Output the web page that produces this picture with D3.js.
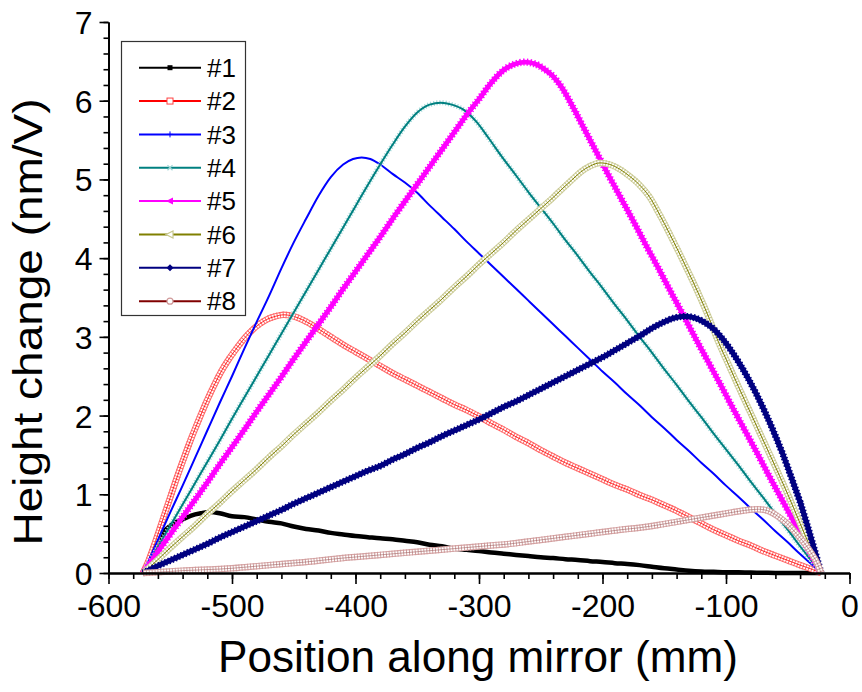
<!DOCTYPE html>
<html>
<head>
<meta charset="utf-8">
<script src="https://cdn.jsdelivr.net/npm/d3@7"></script>
<style>
  html, body { margin: 0; padding: 0; background: #fff; }
  svg { display: block; }
  text { font-family: "Liberation Sans", Arial, sans-serif; fill: #000; }
</style>
</head>
<body>
<svg id="chart" width="862" height="692"></svg>
<script>
// ---------------- DATA ----------------
const seriesNames = ["#1", "#2", "#3", "#4", "#5", "#6", "#7", "#8"];
const seriesColors = ["#000000", "#ff0000", "#0000ff", "#008080", "#ff00ff", "#808000", "#000080", "#800000"];
const xTickValues = [-600, -500, -400, -300, -200, -100, 0];
const yTickValues = [0, 1, 2, 3, 4, 5, 6, 7];

const series1 = [[-572,0],[-568,0.12],[-564,0.27],[-560,0.42],[-555,0.53],[-550,0.60],[-545,0.65],[-540,0.68],[-533,0.73],[-525,0.76],[-518,0.775],[-510,0.76],[-500,0.72],[-490,0.71],[-480,0.68],[-470,0.65],[-460,0.63],[-450,0.59],[-440,0.56],[-430,0.54],[-420,0.51],[-410,0.49],[-400,0.47],[-390,0.455],[-380,0.44],[-370,0.43],[-360,0.41],[-350,0.39],[-340,0.36],[-330,0.34],[-320,0.31],[-310,0.295],[-300,0.28],[-290,0.26],[-280,0.245],[-270,0.23],[-260,0.215],[-250,0.20],[-240,0.19],[-230,0.175],[-220,0.165],[-210,0.15],[-200,0.14],[-190,0.125],[-180,0.115],[-170,0.10],[-160,0.08],[-150,0.06],[-140,0.045],[-130,0.03],[-120,0.02],[-110,0.015],[-100,0.01],[-90,0.008],[-80,0.005],[-70,0.003],[-60,0],[-23,0]];

const series2 = [[-572,0],[-567,0.18],[-562,0.40],[-556,0.68],[-550,0.96],[-544,1.24],[-538,1.50],[-532,1.75],[-526,1.98],[-520,2.20],[-514,2.40],[-508,2.58],[-502,2.73],[-496,2.86],[-490,2.98],[-484,3.08],[-478,3.16],[-472,3.22],[-465,3.26],[-458,3.28],[-450,3.26],[-442,3.21],[-434,3.14],[-426,3.06],[-418,2.98],[-410,2.90],[-400,2.81],[-390,2.72],[-380,2.63],[-370,2.54],[-360,2.46],[-350,2.38],[-340,2.30],[-330,2.22],[-320,2.14],[-310,2.07],[-300,1.99],[-290,1.90],[-280,1.82],[-270,1.73],[-260,1.65],[-250,1.56],[-240,1.48],[-230,1.40],[-220,1.33],[-210,1.26],[-200,1.19],[-190,1.12],[-180,1.06],[-170,0.99],[-160,0.93],[-150,0.86],[-140,0.79],[-130,0.71],[-120,0.63],[-110,0.55],[-100,0.48],[-90,0.41],[-80,0.35],[-70,0.28],[-60,0.22],[-50,0.16],[-40,0.10],[-30,0.045],[-23,0]];

const series3 = [[-572,0],[-560,0.42],[-550,0.77],[-540,1.11],[-530,1.46],[-520,1.81],[-510,2.16],[-500,2.50],[-490,2.85],[-480,3.19],[-470,3.52],[-460,3.87],[-450,4.20],[-440,4.50],[-430,4.79],[-420,5.03],[-410,5.19],[-402,5.26],[-395,5.28],[-388,5.26],[-380,5.19],[-370,5.07],[-360,4.96],[-350,4.83],[-340,4.67],[-330,4.52],[-320,4.37],[-310,4.21],[-300,4.06],[-290,3.91],[-280,3.76],[-270,3.61],[-260,3.46],[-250,3.31],[-240,3.16],[-230,3.01],[-220,2.86],[-210,2.71],[-200,2.56],[-190,2.42],[-180,2.27],[-170,2.13],[-160,1.98],[-150,1.84],[-140,1.69],[-130,1.55],[-120,1.40],[-110,1.26],[-100,1.11],[-90,0.97],[-80,0.82],[-70,0.68],[-60,0.53],[-50,0.39],[-40,0.24],[-30,0.10],[-23,0]];

const series4 = [[-572,0],[-560,0.33],[-550,0.60],[-540,0.87],[-530,1.14],[-520,1.41],[-510,1.68],[-500,1.96],[-490,2.23],[-480,2.50],[-470,2.77],[-460,3.04],[-450,3.31],[-440,3.58],[-430,3.85],[-420,4.12],[-410,4.39],[-400,4.66],[-390,4.93],[-380,5.19],[-370,5.44],[-360,5.67],[-350,5.85],[-340,5.95],[-331,5.975],[-322,5.95],[-312,5.88],[-302,5.73],[-292,5.52],[-282,5.30],[-270,5.05],[-260,4.84],[-250,4.64],[-240,4.44],[-230,4.23],[-220,4.03],[-210,3.82],[-200,3.62],[-190,3.41],[-180,3.21],[-170,3.00],[-160,2.80],[-150,2.59],[-140,2.39],[-130,2.18],[-120,1.98],[-110,1.77],[-100,1.57],[-90,1.37],[-80,1.16],[-70,0.96],[-60,0.75],[-50,0.55],[-40,0.34],[-30,0.14],[-23,0]];

const series5 = [[-572,0],[-560,0.27],[-550,0.49],[-540,0.71],[-530,0.93],[-520,1.15],[-510,1.38],[-500,1.60],[-490,1.82],[-480,2.05],[-470,2.27],[-460,2.49],[-450,2.72],[-440,2.94],[-430,3.16],[-420,3.38],[-410,3.61],[-400,3.83],[-390,4.05],[-380,4.27],[-370,4.50],[-360,4.72],[-350,4.94],[-340,5.16],[-330,5.38],[-320,5.60],[-310,5.82],[-300,6.02],[-290,6.23],[-280,6.39],[-272,6.46],[-263,6.49],[-255,6.47],[-247,6.40],[-240,6.31],[-233,6.17],[-225,5.95],[-215,5.65],[-205,5.35],[-195,5.05],[-185,4.76],[-175,4.47],[-165,4.17],[-155,3.88],[-145,3.58],[-135,3.29],[-125,2.99],[-115,2.70],[-105,2.41],[-95,2.11],[-85,1.82],[-75,1.53],[-65,1.23],[-55,0.94],[-45,0.65],[-35,0.35],[-23,0]];

const series6 = [[-572,0],[-560,0.17],[-550,0.32],[-540,0.46],[-530,0.60],[-520,0.75],[-510,0.89],[-500,1.04],[-490,1.18],[-480,1.32],[-470,1.47],[-460,1.61],[-450,1.76],[-440,1.90],[-430,2.04],[-420,2.19],[-410,2.33],[-400,2.48],[-390,2.62],[-380,2.76],[-370,2.91],[-360,3.05],[-350,3.20],[-340,3.34],[-330,3.48],[-320,3.63],[-310,3.77],[-300,3.92],[-290,4.06],[-280,4.20],[-270,4.35],[-260,4.49],[-250,4.63],[-240,4.77],[-232,4.89],[-225,4.99],[-218,5.09],[-210,5.17],[-202,5.21],[-194,5.19],[-186,5.13],[-178,5.04],[-170,4.93],[-162,4.78],[-154,4.56],[-146,4.32],[-138,4.07],[-130,3.81],[-122,3.54],[-114,3.25],[-106,2.93],[-98,2.65],[-90,2.37],[-80,2.03],[-70,1.69],[-60,1.35],[-50,1.00],[-40,0.63],[-30,0.26],[-23,0]];

const series7 = [[-572,0],[-560,0.09],[-550,0.16],[-540,0.23],[-530,0.30],[-520,0.37],[-510,0.45],[-500,0.52],[-490,0.59],[-480,0.66],[-470,0.73],[-460,0.80],[-450,0.88],[-440,0.95],[-430,1.02],[-420,1.09],[-410,1.16],[-400,1.23],[-390,1.30],[-380,1.36],[-370,1.44],[-360,1.51],[-350,1.59],[-340,1.66],[-330,1.74],[-320,1.81],[-310,1.88],[-300,1.95],[-290,2.03],[-280,2.11],[-270,2.18],[-260,2.26],[-250,2.34],[-240,2.42],[-230,2.50],[-220,2.58],[-210,2.66],[-200,2.74],[-190,2.83],[-180,2.92],[-170,3.01],[-160,3.11],[-150,3.19],[-142,3.24],[-133,3.26],[-125,3.24],[-117,3.18],[-110,3.10],[-103,2.98],[-96,2.83],[-89,2.66],[-82,2.47],[-75,2.26],[-68,2.03],[-61,1.78],[-54,1.51],[-47,1.21],[-40,0.90],[-35,0.65],[-29,0.33],[-23,0]];

const series8 = [[-572,0],[-560,0.01],[-550,0.02],[-540,0.03],[-525,0.04],[-510,0.05],[-500,0.06],[-485,0.08],[-470,0.10],[-455,0.12],[-440,0.14],[-425,0.165],[-410,0.19],[-395,0.21],[-380,0.23],[-365,0.25],[-350,0.27],[-335,0.29],[-320,0.31],[-305,0.33],[-290,0.35],[-275,0.37],[-260,0.40],[-245,0.43],[-230,0.46],[-215,0.49],[-200,0.52],[-185,0.55],[-170,0.575],[-155,0.61],[-140,0.65],[-125,0.69],[-110,0.73],[-95,0.77],[-85,0.795],[-74,0.81],[-66,0.79],[-58,0.72],[-50,0.62],[-43,0.50],[-36,0.37],[-30,0.23],[-26,0.12],[-23,0]];

const allSeries = [series1, series2, series3, series4, series5, series6, series7, series8];

// ---------------- STYLES (emulating dense Origin markers) ----------------
const seriesLayers = [
  [ {c:"#000000", w:4.5} ],
  [ {c:"#ff7070", w:6.5}, {c:"#ffffff", w:4.3}, {c:"#ff6060", w:6.5, d:"0.9 2.1"}, {c:"#ff0000", w:0.8} ],
  [ {c:"#0000ff", w:2} ],
  [ {c:"#a6dada", w:5, d:"1.2 1.8"}, {c:"#008080", w:2} ],
  [ {c:"#ff00ff", w:4.8}, {c:"#ff00ff", w:7.2, d:"1.3 2.2"} ],
  [ {c:"#d4d4a6", w:6.5}, {c:"#ffffff", w:4.2}, {c:"#c4c48c", w:6.5, d:"0.9 2.0"}, {c:"#808000", w:1} ],
  [ {c:"#000080", w:5.2}, {c:"#000080", w:7, d:"1.5 2"} ],
  [ {c:"#d8a8a8", w:6.5}, {c:"#ffffff", w:4.2}, {c:"#cc9898", w:6.5, d:"0.9 2.0"}, {c:"#a06060", w:0.6} ]
];

// ---------------- LAYOUT ----------------
const svg = d3.select("#chart");
const x = d3.scaleLinear().domain([-600, 0]).range([108.5, 849.5]);
const y = d3.scaleLinear().domain([0, 7]).range([573, 22]);

const line = d3.line().x(d => x(d[0])).y(d => y(d[1])).curve(d3.curveMonotoneX);

const plot = svg.append("g");
allSeries.forEach((s, i) => {
  seriesLayers[i].forEach(L => {
    plot.append("path")
      .attr("d", line(s))
      .attr("fill", "none")
      .attr("stroke", L.c)
      .attr("stroke-width", L.w)
      .attr("stroke-dasharray", L.d || null)
      .attr("stroke-linejoin", "round");
  });
});

// ---------------- AXES ----------------
const fmt = d => String(d);
const xMinor = d3.range(-600, 1, 20);
const yMinor = d3.range(0, 36).map(i => i * 0.2);

const gxMinor = svg.append("g").attr("transform", "translate(0,573)")
  .call(d3.axisBottom(x).tickValues(xMinor).tickSize(6).tickSizeOuter(0).tickFormat(""));
const gx = svg.append("g").attr("transform", "translate(0,573)")
  .call(d3.axisBottom(x).tickValues(xTickValues).tickSize(11).tickSizeOuter(0).tickFormat(fmt));
const gyMinor = svg.append("g").attr("transform", "translate(108.5,0)")
  .call(d3.axisLeft(y).tickValues(yMinor).tickSize(5).tickSizeOuter(0).tickFormat(""));
const gy = svg.append("g").attr("transform", "translate(108.5,0)")
  .call(d3.axisLeft(y).tickValues(yTickValues).tickSize(9).tickSizeOuter(0).tickFormat(fmt));

[gxMinor, gx, gyMinor, gy].forEach(g => {
  g.selectAll("path.domain").attr("stroke", "#000").attr("stroke-width", 1.8);
  g.selectAll(".tick line").attr("stroke", "#000").attr("stroke-width", 1.6);
});
gx.selectAll(".tick text")
  .attr("y", 44).attr("dy", null)
  .style("font-size", "32px").style("font-family", "'Liberation Sans', Arial, sans-serif").attr("fill", "#000");
gy.selectAll(".tick text")
  .attr("x", -16).attr("dy", "0.36em")
  .style("font-size", "32px").style("font-family", "'Liberation Sans', Arial, sans-serif").attr("fill", "#000");

// Axis titles
svg.append("text")
  .attr("x", 478).attr("y", 672)
  .attr("text-anchor", "middle")
  .attr("textLength", 520).attr("lengthAdjust", "spacingAndGlyphs")
  .style("font-size", "44px")
  .text("Position along mirror (mm)");

svg.append("text")
  .attr("transform", "translate(42,322) rotate(-90)")
  .attr("text-anchor", "middle")
  .attr("textLength", 447).attr("lengthAdjust", "spacingAndGlyphs")
  .style("font-size", "41px")
  .text("Height change (nm/V)");

// ---------------- LEGEND ----------------
const legend = svg.append("g");
legend.append("rect")
  .attr("x", 121.5).attr("y", 41.5).attr("width", 124).attr("height", 274)
  .attr("fill", "#fff").attr("stroke", "#333").attr("stroke-width", 1.2);

const markerDraw = [
  (g, cy) => g.append("rect").attr("x", 167.5).attr("y", cy - 2.5).attr("width", 5).attr("height", 5).attr("fill", "#000"),
  (g, cy) => g.append("rect").attr("x", 167).attr("y", cy - 3).attr("width", 6).attr("height", 6).attr("fill", "#fff").attr("stroke", "#ff4040").attr("stroke-width", 1),
  (g, cy) => g.append("path").attr("d", `M167,${cy}H173M170,${cy-3}V${cy+3}`).attr("stroke", "#0000ff").attr("stroke-width", 1),
  (g, cy) => g.append("path").attr("d", `M167.5,${cy-2.5}L172.5,${cy+2.5}M167.5,${cy+2.5}L172.5,${cy-2.5}`).attr("stroke", "#9fd6d6").attr("stroke-width", 1.2),
  (g, cy) => g.append("path").attr("d", `M166,${cy}L173,${cy-3.5}L173,${cy+3.5}Z`).attr("fill", "#ff00ff"),
  (g, cy) => g.append("path").attr("d", `M166,${cy}L173,${cy-3.5}L173,${cy+3.5}Z`).attr("fill", "#fff").attr("stroke", "#c8c890").attr("stroke-width", 1.2),
  (g, cy) => g.append("path").attr("d", `M170,${cy-3.5}L173.5,${cy}L170,${cy+3.5}L166.5,${cy}Z`).attr("fill", "#000080"),
  (g, cy) => g.append("circle").attr("cx", 170).attr("cy", cy).attr("r", 3).attr("fill", "#fff").attr("stroke", "#d09a9a").attr("stroke-width", 1.2)
];

seriesNames.forEach((name, i) => {
  const cy = 67.7 + i * 33.35;
  const g = legend.append("g");
  g.append("line").attr("x1", 139).attr("x2", 201).attr("y1", cy).attr("y2", cy)
    .attr("stroke", seriesColors[i]).attr("stroke-width", 2);
  markerDraw[i](g, cy);
  g.append("text").attr("x", 207).attr("y", cy + 9.3)
    .style("font-size", "26px").text(name);
});
</script>
</body>
</html>
